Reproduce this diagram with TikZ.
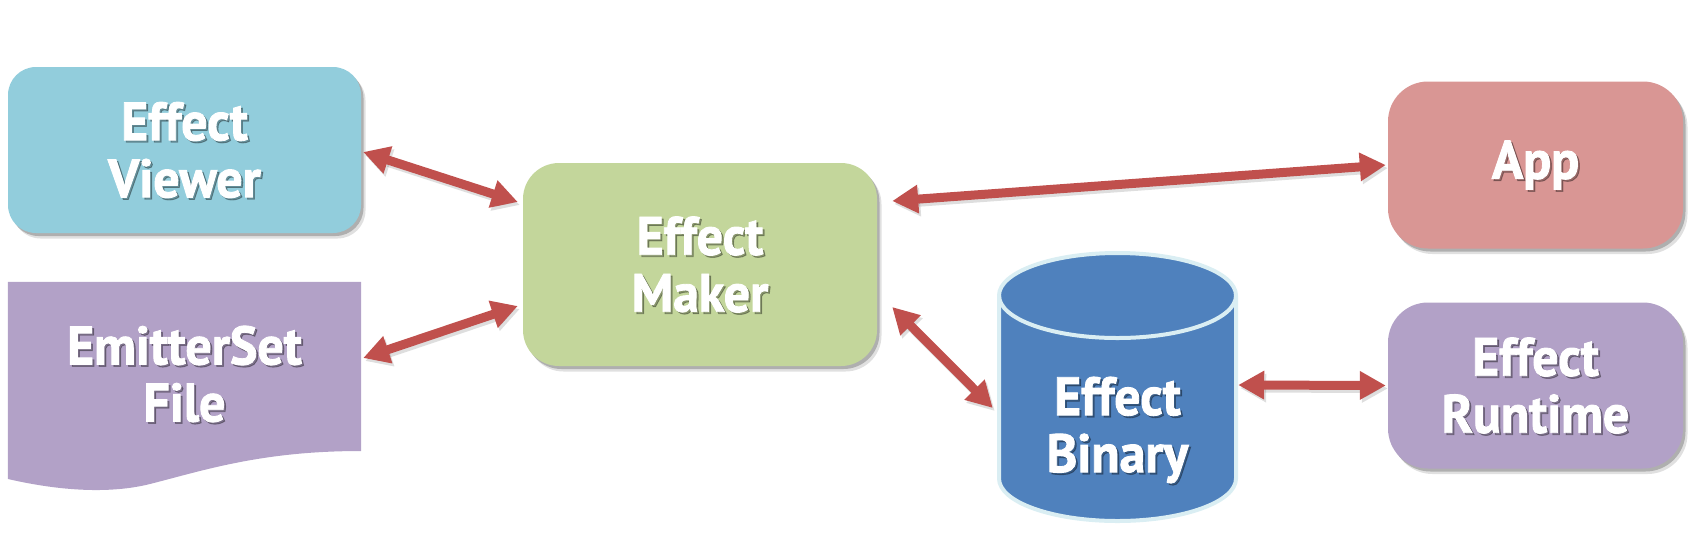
\documentclass[tikz,border=0pt]{standalone}
\usepackage{fontspec}
\newfontfamily\lblfont{PT Sans}[FakeStretch=0.96,FakeBold=1.6]
\usetikzlibrary{shadows,arrows.meta,calc}
\definecolor{cview}{HTML}{92CDDC}
\definecolor{cmaker}{HTML}{C3D69B}
\definecolor{capp}{HTML}{D99694}
\definecolor{cpurple}{HTML}{B2A1C7}
\definecolor{ccyl}{HTML}{4F81BD}
\definecolor{cborder}{HTML}{DAEEF3}
\definecolor{carrow}{HTML}{C0504D}
\tikzset{
  boxsh/.style={drop shadow={shadow xshift=4.5pt,shadow yshift=-5.5pt,opacity=0.12,fill=black},
                drop shadow={shadow xshift=2.5pt,shadow yshift=-3pt,opacity=0.22,fill=black}},
  box/.style={boxsh, draw=none, inner sep=0pt},
  lbl/.style={font=\lblfont\bfseries\fontsize{54}{57}\selectfont, text=white, align=center, inner sep=0pt},
  lblsh/.style={lbl, text=black, opacity=0.3},
  tipA/.tip={Triangle[length=26pt,width=27pt]},
  conn/.style={draw=carrow, line width=9pt, {tipA}-{tipA}},
  connsh/.style={draw=black, line width=9pt, opacity=0.13, {tipA}-{tipA}, transform canvas={shift={(2pt,-3pt)}}},
}
\newcommand\shlabel[3]{%
  \node[lblsh] (#2s) at ([shift={(2,2)}]#1) {#3};
  \node[lbl] (#2) at (#1) {#3};}
\newcommand\link[2]{%
  \draw[connsh] #1 -- #2;
  \draw[conn] #1 -- #2;}
\begin{document}
\begin{tikzpicture}[x=1pt,y=-1pt]
\useasboundingbox (0,0) rectangle (1700,547);
% boxes
\node[box, fill=cview, minimum width=353pt, minimum height=166pt, rounded corners=28pt] (viewer) at (184.5,150) {};
\node[box, fill=cmaker, minimum width=354pt, minimum height=203pt, rounded corners=36pt] (maker) at (700,264.5) {};
\node[box, fill=capp, minimum width=295pt, minimum height=167pt, rounded corners=40pt] (app) at (1535.5,165) {};
\node[box, fill=cpurple, minimum width=295pt, minimum height=166pt, rounded corners=40pt] (runtime) at (1535.5,385.5) {};
% emitterset document shape
\node[inner sep=0pt, minimum width=353pt, minimum height=168pt] (emit) at (184.5,366) {};
\path[fill=cpurple] (emit.north west) -- (emit.north east) -- (361,451)
  .. controls (262,451) and (205,470) .. (150,484)
  .. controls (110,494) and (60,491) .. (8,479) -- cycle;
% cylinder
\node[inner sep=0pt, minimum width=241pt, minimum height=272pt] (bin) at (1117.5,387) {};
\path[fill=ccyl, draw=cborder, line width=4pt] (999,295.5) -- (999,478.5)
  arc[start angle=180, end angle=360, x radius=118.5pt, y radius=42.5pt] -- (1236,295.5)
  arc[start angle=0, end angle=180, x radius=118.5pt, y radius=42.5pt] -- cycle;
\draw[draw=cborder, line width=4pt] (999,295.5)
  arc[start angle=180, end angle=360, x radius=118.5pt, y radius=42.5pt];
% labels
\shlabel{viewer.center}{tviewer}{Effect\\Viewer}
\shlabel{maker.center}{tmaker}{Effect\\Maker}
\shlabel{app.center}{tapp}{App}
\shlabel{runtime.center}{truntime}{Effect\\Runtime}
\shlabel{184.5,374}{temit}{EmitterSet\\File}
\shlabel{1117.5,430}{tbin}{Effect\\Binary}
% connectors
\link{([shift={(2,2)}]viewer.east)}{([shift={(-5,-62.5)}]maker.west)}
\link{([shift={(2,-8)}]emit.east)}{([shift={(-5,41.5)}]maker.west)}
\link{([shift={(15,-63.5)}]maker.east)}{([shift={(-2,0)}]app.west)}
\link{([shift={(15,42.5)}]maker.east)}{([shift={(-4,21)}]bin.west)}
\link{([shift={(0,-2)}]bin.east)}{([shift={(-2,0)}]runtime.west)}
\end{tikzpicture}
\end{document}
